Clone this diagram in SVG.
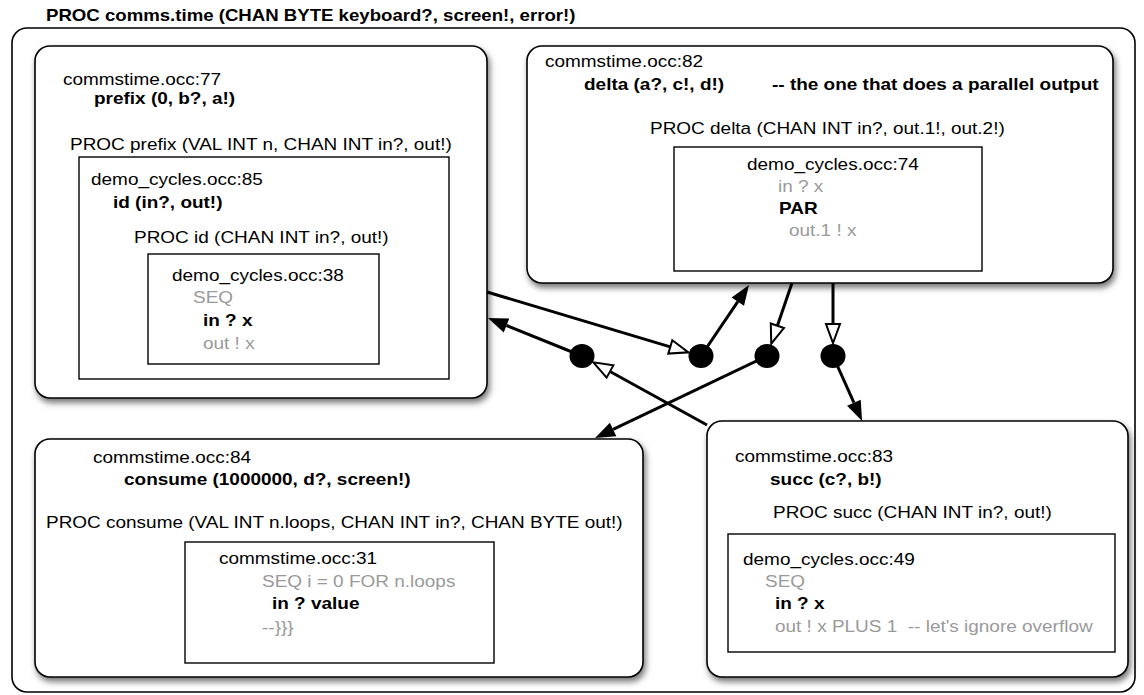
<svg xmlns="http://www.w3.org/2000/svg" width="1144" height="695" viewBox="0 0 1144 695">
<style>
.t{font-family:"Liberation Sans",Arial,Helvetica,sans-serif;font-size:16.5px;fill:#000}
.b{font-weight:bold}
.g{fill:#9a9a9a}
.node{fill:#fff;stroke:#000;stroke-width:1.6}
.inner{fill:#fff;stroke:#000;stroke-width:1.4}
.outer{fill:#fff;stroke:#000;stroke-width:1.6}
.conn{stroke:#000;stroke-width:3;fill:none}
.dot{fill:#000}
</style>
<defs>
<filter id="sh" x="-10%" y="-10%" width="125%" height="130%">
<feDropShadow dx="2" dy="4" stdDeviation="3" flood-color="#000" flood-opacity="0.55"/>
</filter>
<marker id="af" markerUnits="userSpaceOnUse" markerWidth="24" markerHeight="18" viewBox="0 -9 24 18" refX="0" refY="0" orient="auto" overflow="visible">
<path d="M0,-7.5 L20,0 L0,7.5 Z" fill="#000"/>
</marker>
<marker id="ah" markerUnits="userSpaceOnUse" markerWidth="24" markerHeight="18" viewBox="0 -9 24 18" refX="0" refY="0" orient="auto" overflow="visible">
<path d="M0,-7 L19,0 L0,7 Z" fill="#fff" stroke="#000" stroke-width="2"/>
</marker>
</defs>

<g id="title">
<text class="t b" style="font-size:16.2px" transform="translate(46 20.5) scale(1.15 1)">PROC comms.time (CHAN BYTE keyboard?, screen!, error!)</text>
</g>

<g id="comms-time">
<rect class="outer" x="12" y="28" width="1123" height="664" rx="15"/>
</g>

<g id="prefix">
<rect class="node" filter="url(#sh)" x="35" y="46" width="452" height="352" rx="15"/>
<text class="t" transform="translate(63 85) scale(1.15 1)">commstime.occ:77</text>
<text class="t b" transform="translate(94 104) scale(1.15 1)">prefix (0, b?, a!)</text>
<text class="t" transform="translate(70 150) scale(1.15 1)">PROC prefix (VAL INT n, CHAN INT in?, out!)</text>
<rect class="inner" x="79" y="157" width="370" height="222"/>
<text class="t" transform="translate(91 185) scale(1.15 1)">demo_cycles.occ:85</text>
<text class="t b" transform="translate(113 208) scale(1.15 1)">id (in?, out!)</text>
<text class="t" transform="translate(134 243) scale(1.15 1)">PROC id (CHAN INT in?, out!)</text>
<rect class="inner" x="148" y="254" width="231" height="110"/>
<text class="t" transform="translate(172 281) scale(1.15 1)">demo_cycles.occ:38</text>
<text class="t g" transform="translate(193 303) scale(1.15 1)">SEQ</text>
<text class="t b" transform="translate(203 326) scale(1.15 1)">in ? x</text>
<text class="t g" transform="translate(203 349) scale(1.15 1)">out ! x</text>
</g>

<g id="delta">
<rect class="node" filter="url(#sh)" x="527" y="46" width="586" height="237" rx="15"/>
<text class="t" transform="translate(545 67) scale(1.15 1)">commstime.occ:82</text>
<text class="t b" transform="translate(584 90) scale(1.15 1)">delta (a?, c!, d!)</text>
<text class="t b" transform="translate(772 90) scale(1.15 1)">-- the one that does a parallel output</text>
<text class="t" transform="translate(650 134) scale(1.15 1)">PROC delta (CHAN INT in?, out.1!, out.2!)</text>
<rect class="inner" x="674" y="147" width="308" height="124"/>
<text class="t" transform="translate(747 170) scale(1.15 1)">demo_cycles.occ:74</text>
<text class="t g" transform="translate(778 192) scale(1.15 1)">in ? x</text>
<text class="t b" transform="translate(779 214) scale(1.15 1)">PAR</text>
<text class="t g" transform="translate(789 236) scale(1.15 1)">out.1 ! x</text>
</g>

<g id="consume">
<rect class="node" filter="url(#sh)" x="35" y="439" width="608" height="238" rx="15"/>
<text class="t" transform="translate(93 463) scale(1.15 1)">commstime.occ:84</text>
<text class="t b" transform="translate(124 485) scale(1.15 1)">consume (1000000, d?, screen!)</text>
<text class="t" transform="translate(46 528) scale(1.15 1)">PROC consume (VAL INT n.loops, CHAN INT in?, CHAN BYTE out!)</text>
<rect class="inner" x="185" y="542" width="309" height="121"/>
<text class="t" transform="translate(219 564) scale(1.15 1)">commstime.occ:31</text>
<text class="t g" transform="translate(262 587) scale(1.15 1)">SEQ i = 0 FOR n.loops</text>
<text class="t b" transform="translate(272 609) scale(1.15 1)">in ? value</text>
<text class="t g" transform="translate(262 633) scale(1.15 1)">--}}}</text>
</g>

<g id="succ">
<rect class="node" filter="url(#sh)" x="707" y="421" width="421" height="256" rx="15"/>
<text class="t" transform="translate(735 462) scale(1.15 1)">commstime.occ:83</text>
<text class="t b" transform="translate(770 485) scale(1.15 1)">succ (c?, b!)</text>
<text class="t" transform="translate(773 518) scale(1.15 1)">PROC succ (CHAN INT in?, out!)</text>
<rect class="inner" x="728" y="534" width="387" height="118"/>
<text class="t" transform="translate(743 565) scale(1.15 1)">demo_cycles.occ:49</text>
<text class="t g" transform="translate(765 587) scale(1.15 1)">SEQ</text>
<text class="t b" transform="translate(775 609) scale(1.15 1)">in ? x</text>
<text class="t g" xml:space="preserve" transform="translate(775 632) scale(1.15 1)">out ! x PLUS 1  -- let's ignore overflow</text>
</g>

<g id="connectors">
<path class="conn" d="M487 292 L670.3 346.9" marker-end="url(#ah)"/>
<path class="conn" d="M701 356 L737.8 301.6" marker-end="url(#af)"/>
<path class="conn" d="M792 283 L777.4 325.7" marker-end="url(#ah)"/>
<path class="conn" d="M833 283 L833 324" marker-end="url(#ah)"/>
<path class="conn" d="M833 356 L853.9 402.7" marker-end="url(#af)"/>
<path class="conn" d="M767 356 L613.1 429.4" marker-end="url(#af)"/>
<path class="conn" d="M707 425 L610 371.5" marker-end="url(#ah)"/>
<path class="conn" d="M582 356 L506.5 325.5" marker-end="url(#af)"/>
<ellipse class="dot" cx="582" cy="356" rx="12.5" ry="12"/>
<ellipse class="dot" cx="701" cy="356" rx="12.5" ry="12"/>
<ellipse class="dot" cx="767" cy="356" rx="12.5" ry="12"/>
<ellipse class="dot" cx="833" cy="356" rx="12.5" ry="12"/>
</g>
</svg>
